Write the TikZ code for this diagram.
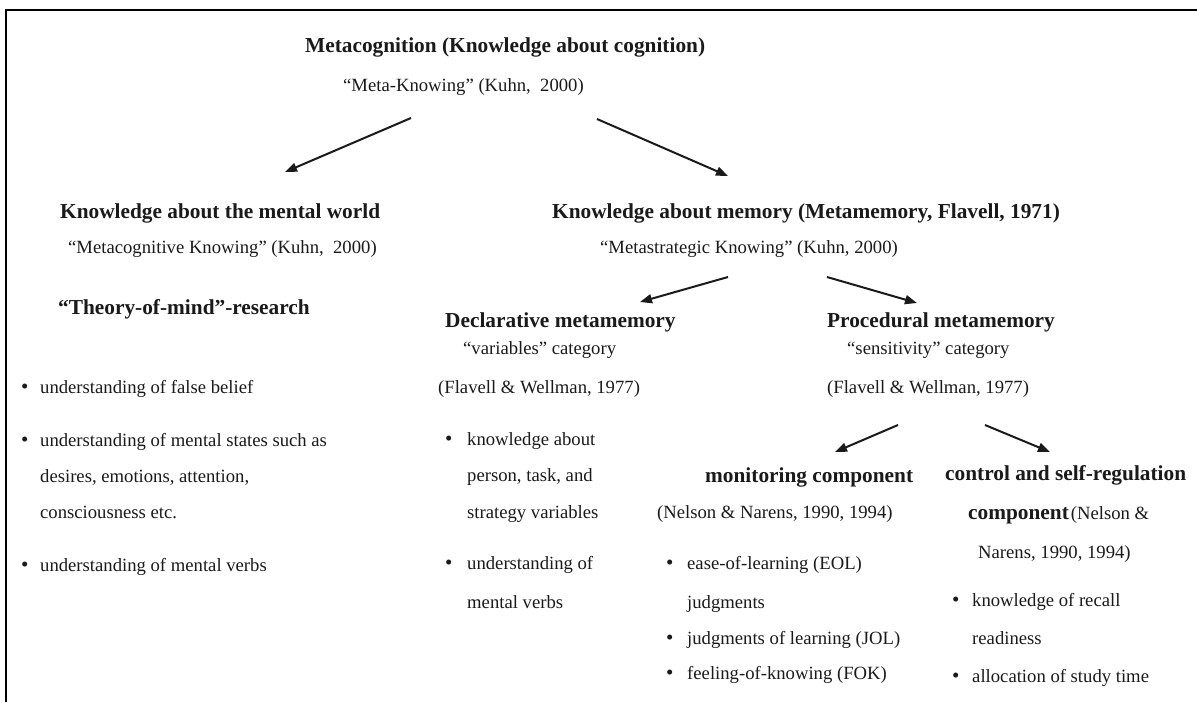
\documentclass[tikz,border=0pt]{standalone}
\usepackage{fontspec}
\setmainfont{Liberation Serif}
\usetikzlibrary{arrows.meta}
\definecolor{ink}{HTML}{1A1A1A}
\begin{document}
\begin{tikzpicture}[x=1pt,y=-1pt,
  txt/.style={anchor=base west, inner sep=0pt, text=ink,
              font=\fontsize{18.67}{22}\selectfont},
  head/.style={txt, font=\fontsize{21.33}{25}\selectfont\bfseries},
  dot/.style={txt, font=\fontsize{21}{22}\selectfont},
  link/.style={-{Triangle[length=12pt,width=9pt]}, line width=2pt, draw=ink},
  rule/.style={line width=2.5pt, draw=black}]
\useasboundingbox (0,0) rectangle (1197,702);

% frame (top and left edges)
\coordinate (fbl) at (6,702);
\coordinate (ftl) at (6,10);
\coordinate (ftr) at (1197,10);
\draw[rule] (fbl) -- (ftl) -- (ftr);

% root
\node[head] (meta)  at (305,52) {Metacognition (Knowledge about cognition)};
\node[txt]  (metak) at (343,91) {“Meta-Knowing” (Kuhn,\ \ 2000)};

% left branch: mental world
\node[head] (world)  at (60,218) {Knowledge about the mental world};
\node[txt]  (worldk) at (68,253) {“Metacognitive Knowing” (Kuhn,\ \ 2000)};
\node[head] (tom)    at (58,314) {“Theory-of-mind”-research};
\node[dot] (wb1) at (21,393) {•};
\node[txt] (wt1) at (40,393) {understanding of false belief};
\node[dot] (wb2) at (21,446) {•};
\node[txt] (wt2a) at (40,446) {understanding of mental states such as};
\node[txt] (wt2b) at (40,482) {desires, emotions, attention,};
\node[txt] (wt2c) at (40,518) {consciousness etc.};
\node[dot] (wb3) at (21,571) {•};
\node[txt] (wt3) at (40,571) {understanding of mental verbs};

% right branch: memory
\node[head] (memory)  at (552,218) {Knowledge about memory (Metamemory, Flavell, 1971)};
\node[txt]  (memoryk) at (600,253) {“Metastrategic Knowing” (Kuhn, 2000)};

% declarative metamemory
\node[head] (decl)  at (445,327) {Declarative metamemory};
\node[txt]  (declv) at (463,354) {“variables” category};
\node[txt]  (declr) at (438,393) {(Flavell \& Wellman, 1977)};
\node[dot] (db1) at (445,445) {•};
\node[txt] (dt1a) at (467,445) {knowledge about};
\node[txt] (dt1b) at (467,481) {person, task, and};
\node[txt] (dt1c) at (467,518) {strategy variables};
\node[dot] (db2) at (445,569) {•};
\node[txt] (dt2a) at (467,569) {understanding of};
\node[txt] (dt2b) at (467,608) {mental verbs};

% procedural metamemory
\node[head] (proc)  at (827,327) {Procedural metamemory};
\node[txt]  (procs) at (847,354) {“sensitivity” category};
\node[txt]  (procr) at (827,393) {(Flavell \& Wellman, 1977)};

% monitoring component
\node[head] (mon)  at (705,482) {monitoring component};
\node[txt]  (monr) at (657,518) {(Nelson \& Narens, 1990, 1994)};
\node[dot] (mb1) at (666,569) {•};
\node[txt] (mt1a) at (687,569) {ease-of-learning (EOL)};
\node[txt] (mt1b) at (687,608) {judgments};
\node[dot] (mb2) at (666,644) {•};
\node[txt] (mt2) at (687,644) {judgments of learning (JOL)};
\node[dot] (mb3) at (666,679) {•};
\node[txt] (mt3) at (687,679) {feeling-of-knowing (FOK)};

% control and self-regulation component
\node[head] (ctl)  at (945,480) {control and self-regulation};
\node[txt]  (ctl2) at (968,519) {{\fontsize{21.33}{25}\selectfont\bfseries component}\hspace{2pt}(Nelson \&};
\node[txt]  (ctl3) at (978,558) {Narens, 1990, 1994)};
\node[dot] (cb1) at (952,606) {•};
\node[txt] (ct1a) at (972,606) {knowledge of recall};
\node[txt] (ct1b) at (972,644) {readiness};
\node[dot] (cb2) at (952,682) {•};
\node[txt] (ct2) at (972,682) {allocation of study time};

% arrow end points
\coordinate (metaL)  at (411,118);
\coordinate (worldT) at (285,172);
\coordinate (metaR)  at (597,119);
\coordinate (memT)   at (728,176);
\coordinate (memL)   at (728,277);
\coordinate (declT)  at (640,302);
\coordinate (memR)   at (827,277);
\coordinate (procT)  at (917,303);
\coordinate (procL)  at (898,425);
\coordinate (monT)   at (835,452);
\coordinate (procR)  at (985,425);
\coordinate (ctlT)   at (1050,452);

\draw[link] (metaL) -- (worldT);
\draw[link] (metaR) -- (memT);
\draw[link] (memL)  -- (declT);
\draw[link] (memR)  -- (procT);
\draw[link] (procL) -- (monT);
\draw[link] (procR) -- (ctlT);
\end{tikzpicture}
\end{document}
